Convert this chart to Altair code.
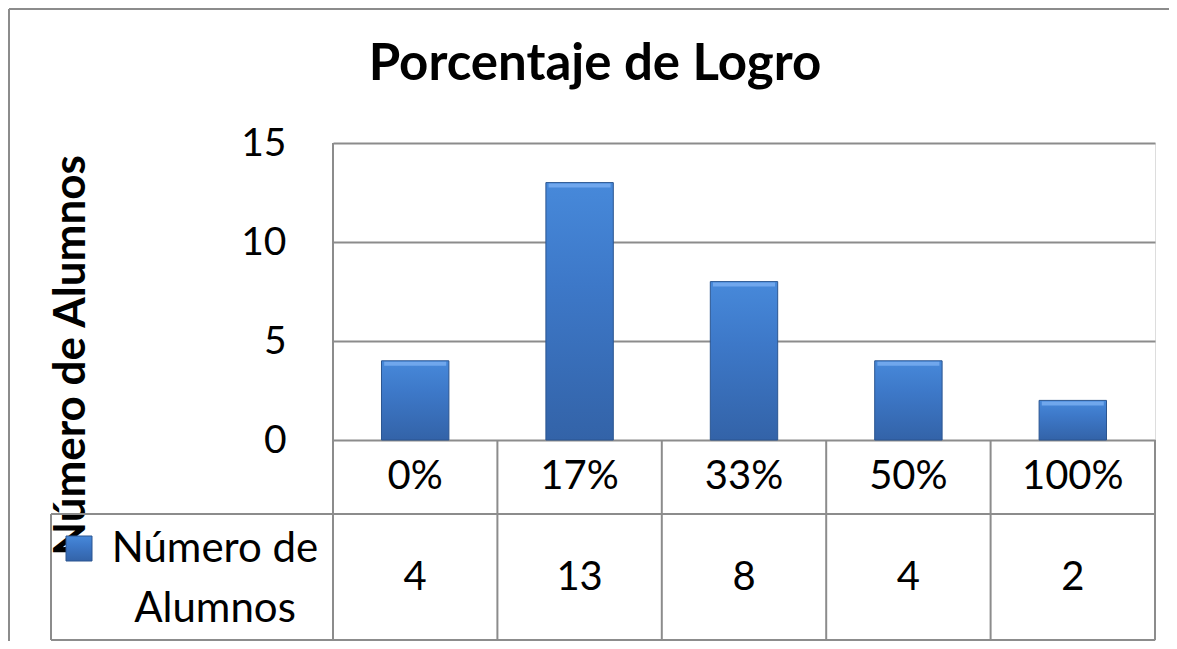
import altair as alt
import pandas as pd

categories = ["0%", "17%", "33%", "50%", "100%"]
values = [4, 13, 8, 4, 2]
series_name = "Número de Alumnos"
y_ticks = [0, 5, 10, 15]
title_text = "Porcentaje de Logro"

df = pd.DataFrame({"cat": categories, "val": values})
one = pd.DataFrame({"k": [0]})

FONT = "Lato"
GRID = "#8c8c8c"
W, H = 822, 497
VAL_H = 297

xenc = alt.X("cat:N", sort=categories,
             scale=alt.Scale(paddingInner=0, paddingOuter=0), axis=None)

bar_grad = alt.LinearGradient(
    gradient="linear", x1=0, x2=0, y1=0, y2=1,
    stops=[alt.GradientStop(color="#4789da", offset=0),
           alt.GradientStop(color="#3d78c8", offset=0.4),
           alt.GradientStop(color="#3363a8", offset=1)])

bars = alt.Chart(df).mark_bar(
    width=alt.RelativeBandSize(0.41), color=bar_grad,
    stroke="#2b5590", strokeWidth=1
).encode(
    x=xenc,
    y=alt.Y("val:Q",
            scale=alt.Scale(domain=[0, 15], range=[VAL_H, 0], nice=False),
            axis=alt.Axis(values=y_ticks, grid=True, gridColor=GRID, gridWidth=2,
                          domain=False, ticks=False, labelFontSize=39,
                          labelFont=FONT, labelColor="black", labelPadding=47,
                          labelBaseline="middle",
                          title=series_name, titleFont=FONT, titleFontSize=44,
                          titleFontWeight="bold", titleColor="black",
                          titleAngle=270, titleX=-262, titleY=212,
                          titleBaseline="middle", titleAlign="center")),
)

bevel = alt.Chart(df).mark_tick(
    color="#74abee", thickness=4, size=62, yOffset=3, opacity=0.9
).encode(x=xenc, y=alt.Y("val:Q"))

# table lines
col_lines = alt.Chart(df).mark_rule(color=GRID, strokeWidth=2).encode(
    x=alt.X("cat:N", sort=categories, bandPosition=0,
            scale=alt.Scale(paddingInner=0, paddingOuter=0), axis=None),
    y=alt.value(VAL_H), y2=alt.value(H))

deco = alt.Chart(one)
axis_line = deco.mark_rule(color=GRID, strokeWidth=2).encode(
    x=alt.value(0), y=alt.value(0), y2=alt.value(H))
right_line = deco.mark_rule(color=GRID, strokeWidth=2).encode(
    x=alt.value(W), y=alt.value(VAL_H), y2=alt.value(H))
row_line = deco.mark_rule(color=GRID, strokeWidth=2).encode(
    x=alt.value(-282), x2=alt.value(W), y=alt.value(371))
bottom_line = deco.mark_rule(color=GRID, strokeWidth=2).encode(
    x=alt.value(-282), x2=alt.value(W), y=alt.value(H))
left_cell = deco.mark_rule(color=GRID, strokeWidth=2).encode(
    x=alt.value(-282), y=alt.value(371), y2=alt.value(H))

outer_top = deco.mark_rule(color="#8c8c8c", strokeWidth=2).encode(
    x=alt.value(-324), x2=alt.value(840), y=alt.value(-134))
outer_left = deco.mark_rule(color="#8c8c8c", strokeWidth=2).encode(
    x=alt.value(-324), y=alt.value(-134), y2=alt.value(H + 5))

title_mark = alt.Chart(pd.DataFrame({"t": [title_text]})).mark_text(
    font=FONT, fontSize=51, fontWeight="bold", color="black",
    align="center", baseline="alphabetic"
).encode(x=alt.value(262), y=alt.value(-63), text="t:N")

cat_text = alt.Chart(df).mark_text(
    font=FONT, fontSize=40, color="black", baseline="middle", align="center"
).encode(x=xenc, y=alt.value(334), text="cat:N")

val_text = alt.Chart(df).mark_text(
    font=FONT, fontSize=40, color="black", baseline="middle", align="center"
).encode(x=xenc, y=alt.value(435), text="val:Q")

legend_key = deco.mark_rect(color=bar_grad, stroke="#2b5590", strokeWidth=1).encode(
    x=alt.value(-267), x2=alt.value(-241), y=alt.value(393), y2=alt.value(418))

legend_label = alt.Chart(pd.DataFrame({"name": [series_name]})).mark_text(
    font=FONT, fontSize=42, color="black", align="center", baseline="alphabetic",
    lineHeight=60
).encode(x=alt.value(-118), y=alt.value(419),
         text=alt.Text("label:N")).transform_calculate(
    label="split(replace(datum.name, ' de ', ' de|'), '|')")

chart = alt.layer(
    outer_top, outer_left, title_mark,
    bars, bevel, col_lines, axis_line, right_line, row_line, bottom_line, left_cell,
    cat_text, val_text, legend_key, legend_label
).properties(
    width=W, height=H,
    autosize=alt.AutoSizeParams(type="none"),
    padding={"left": 325, "top": 135, "right": 14, "bottom": 1},
).configure_view(stroke=None).configure(background="white")

chart.save("out.html", embed_options={"renderer": "svg", "actions": False})
